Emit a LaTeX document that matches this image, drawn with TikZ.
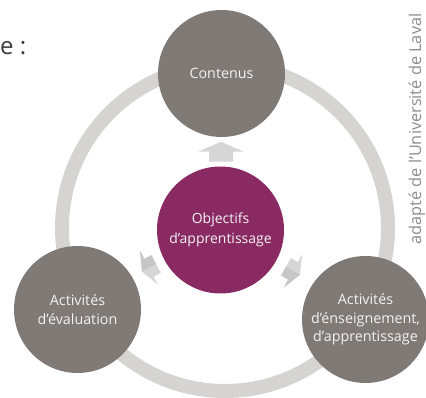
\documentclass[tikz,border=0pt]{standalone}
\usepackage{fontspec}
\setmainfont{Open Sans}
\usetikzlibrary{calc}
\definecolor{bubgray}{HTML}{807A77}
\definecolor{bubpurple}{HTML}{8A2A63}
\definecolor{ringgray}{HTML}{D5D4D2}
\definecolor{arrowgray}{HTML}{D6D6D6}
\definecolor{arrowgrayd}{HTML}{C6C6C6}
\definecolor{titlegray}{HTML}{3C3C3C}
\definecolor{creditgray}{HTML}{8C8C8C}
\tikzset{
  bubble/.style={circle, minimum size=127pt, inner sep=0pt, align=center,
    text=white!95!black, font=\fontsize{14.3}{18.5}\selectfont},
  graybubble/.style={bubble, fill=bubgray},
  purplebubble/.style={bubble, fill=bubpurple, font=\fontsize{14}{20}\selectfont},
  ringline/.style={draw=ringgray, line width=14pt},
  uparrow/.pic={
    \fill[arrowgray] (0,-10) -- (23,0) -- (12,0) -- (12,10) -- (-12,10) -- (-12,0) -- (-23,0) -- cycle;
  },
  sidearrow/.pic={
    \fill[arrowgray] (0,-8) -- (19,0) -- (10,0) -- (10,8) -- (-10,8) -- (-10,0) -- (-19,0) -- cycle;
    \fill[arrowgrayd] (0,-8) -- (19,0) -- (10,0) -- (10,8) -- (0,8) -- cycle;
  }
}
\begin{document}
\begin{tikzpicture}[x=1pt,y=-1pt]
\useasboundingbox (0,0) rectangle (426,398);
\coordinate (ringc) at (225,228);
\draw[ringline] (ringc) circle (163pt);
\node[purplebubble] (obj) at (220.5,230) {Objectifs\\d’apprentissage};
\node[graybubble] (cont) at (221.5,73.5) {Contenus};
\node[graybubble] (eval) at (77.5,309.5) {Activités\\d’évaluation};
\node[graybubble] (ens) at (365.5,319.5) {Activités\\d’énseignement,\\d’apprentissage};
\pic at ($(obj)!0.5!(cont)$) {uparrow};
\pic[rotate=118] at ($(obj)!0.5!(eval)+(0,-2)$) {sidearrow};
\pic[rotate=-119] at ($(obj)!0.5!(ens)+(0,-4)$) {sidearrow};
\node[anchor=base west, inner sep=0pt, text=titlegray, font=\fontsize{24}{28}\selectfont] (title) at (0,55) {e :};
\node[anchor=base, rotate=90, inner sep=0pt, text=creditgray, font=\fontsize{16.3}{18}\selectfont] (credit) at (421,129) {adapté de l’Université de Laval};
\end{tikzpicture}
\end{document}
